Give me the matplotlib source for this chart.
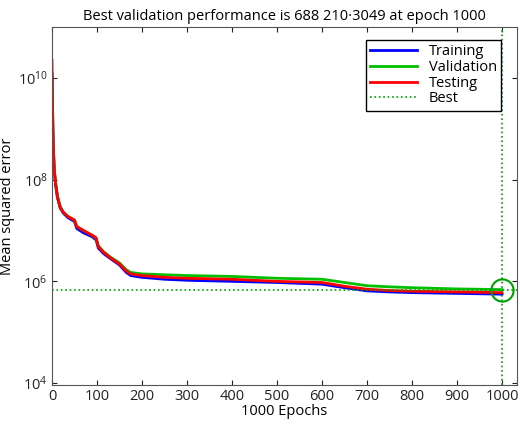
import matplotlib
matplotlib.use("Agg")
import matplotlib.pyplot as plt

ep = [0, 1, 2, 3, 5, 8, 12, 18, 25, 35, 45, 50, 55, 70, 90, 98, 103, 115, 130, 150, 165, 175, 200, 250, 300, 400, 500, 600, 650, 700, 750, 800, 900, 1000]
train = [1.2e10, 3e9, 9e8, 4e8, 1.5e8, 8e7, 4.5e7, 2.8e7, 2.2e7, 1.8e7, 1.6e7, 1.5e7, 1.1e7, 9e6, 7.5e6, 6.5e6, 4.5e6, 3.5e6, 2.8e6, 2.1e6, 1.5e6, 1.3e6, 1.2e6, 1.1e6, 1.05e6, 1.0e6, 9.5e5, 8.8e5, 7.5e5, 6.5e5, 6.2e5, 6.0e5, 5.8e5, 5.6e5]
valid = [1.1e10, 2.8e9, 9e8, 4e8, 1.6e8, 8.5e7, 4.8e7, 3e7, 2.3e7, 1.9e7, 1.7e7, 1.6e7, 1.2e7, 1e7, 8e6, 7e6, 5e6, 3.8e6, 3e6, 2.3e6, 1.7e6, 1.5e6, 1.4e6, 1.35e6, 1.3e6, 1.25e6, 1.15e6, 1.1e6, 9.5e5, 8.2e5, 7.8e5, 7.5e5, 7.1e5, 6.88e5]
test = [2.2e10, 4e9, 1e9, 4.2e8, 1.6e8, 8.5e7, 4.7e7, 2.9e7, 2.3e7, 1.9e7, 1.7e7, 1.6e7, 1.2e7, 1e7, 8e6, 7.2e6, 4.8e6, 3.7e6, 2.9e6, 2.2e6, 1.6e6, 1.4e6, 1.3e6, 1.2e6, 1.15e6, 1.1e6, 1.0e6, 9.5e5, 8e5, 7e5, 6.6e5, 6.4e5, 6.2e5, 6.0e5]
best_epoch = 1000
best_val = 688210.3049

plt.rcParams['font.family'] = ['Open Sans', 'DejaVu Sans']
fig = plt.figure(figsize=(5.2, 4.25), dpi=100)
ax = fig.add_axes([0.1, 0.094, 0.894, 0.842])
ax.plot(ep, train, color='#0000ff', lw=2, label='Training')
ax.plot(ep, valid, color='#00c000', lw=2, label='Validation')
ax.plot(ep, test, color='#ff0000', lw=2, label='Testing')
ax.axvline(best_epoch, color='#00a000', ls=':', lw=1.2, label='Best')
ax.axhline(best_val, color='#00a000', ls=':', lw=1.2)
ax.plot([best_epoch], [best_val], 'o', ms=16, mfc='none', mec='#00a000', mew=1.5)
ax.set_yscale('log')
ax.set_xlim(0, 1033)
ax.set_ylim(10**3.96, 1e11)
ax.set_yticks([1e4, 1e6, 1e8, 1e10])
ax.minorticks_off()
ax.set_xticks(range(0, 1001, 100))
for s in ax.spines.values():
    s.set_color('#555555')
ax.tick_params(direction='in', top=True, right=True, labelsize=10.5, colors='#222222', pad=3)
ax.set_xlabel('1000 Epochs', fontsize=10.5, labelpad=0)
ax.set_ylabel('Mean squared error', fontsize=10.5, labelpad=2)
ax.set_title('Best validation performance is 688 210·3049 at epoch 1000', fontsize=10.5, pad=5)
ax.legend(loc='upper right', bbox_to_anchor=(0.982, 0.985), fontsize=10.5, fancybox=False,
          edgecolor='black', borderpad=0.3, labelspacing=0.05, handlelength=3.2, framealpha=1)
fig.savefig('out.png', dpi=100)
